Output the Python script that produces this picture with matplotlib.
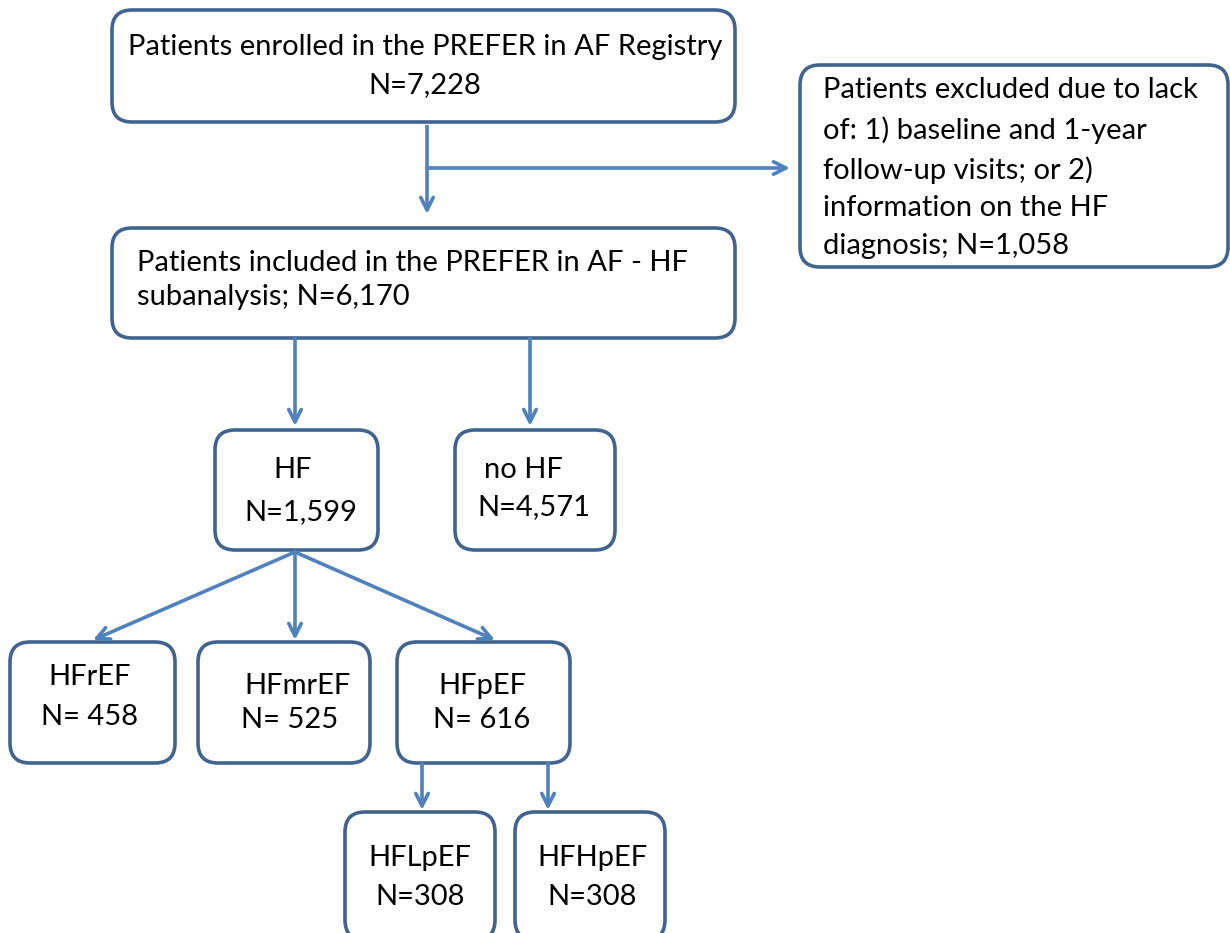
import matplotlib.pyplot as plt
from matplotlib.patches import FancyBboxPatch

plt.rcParams['font.family'] = ['Lato', 'DejaVu Sans']

BORDER = '#41648f'
ARROW = '#4f81bd'

# boxes: (x0, y0, x1, y1) in pixel coords, y down
box_names = ['enrolled', 'excluded', 'included', 'hf', 'nohf',
             'hfref', 'hfmref', 'hfpef', 'hflpef', 'hfhpef']
box_rects = [(112, 10, 735, 122), (800, 65, 1228, 267), (112, 228, 735, 338),
             (215, 430, 378, 550), (455, 430, 615, 550),
             (10, 642, 175, 763), (198, 642, 370, 763), (397, 642, 570, 763),
             (345, 812, 495, 940), (515, 812, 665, 940)]

# texts: (x, y, string, ha)
texts = [
    (425, 47, 'Patients enrolled in the PREFER in AF Registry', 'center'),
    (425, 85, 'N=7,228', 'center'),
    (823, 90, 'Patients excluded due to lack', 'left'),
    (823, 130, 'of: 1) baseline and 1-year', 'left'),
    (823, 170, 'follow-up visits; or 2)', 'left'),
    (823, 208, 'information on the HF', 'left'),
    (823, 246, 'diagnosis; N=1,058', 'left'),
    (137, 263, 'Patients included in the PREFER in AF - HF', 'left'),
    (137, 297, 'subanalysis; N=6,170', 'left'),
    (293, 470, 'HF', 'center'),
    (301, 512, 'N=1,599', 'center'),
    (523, 470, 'no HF', 'center'),
    (534, 507, 'N=4,571', 'center'),
    (90, 677, 'HFrEF', 'center'),
    (90, 717, 'N= 458', 'center'),
    (298, 686, 'HFmrEF', 'center'),
    (290, 720, 'N= 525', 'center'),
    (482, 686, 'HFpEF', 'center'),
    (482, 720, 'N= 616', 'center'),
    (420, 858, 'HFLpEF', 'center'),
    (420, 897, 'N=308', 'center'),
    (592, 858, 'HFHpEF', 'center'),
    (592, 897, 'N=308', 'center'),
]

# arrows: (x_start, y_start, x_end, y_end)
arrows = [(427, 168, 427, 214), (427, 168, 790, 168),
          (295, 338, 295, 426), (530, 338, 530, 426),
          (295, 552, 93, 640), (295, 552, 295, 640), (295, 552, 495, 640),
          (422, 763, 422, 810), (548, 763, 548, 810)]
plain_lines = [(427, 125, 427, 168)]

fig = plt.figure(figsize=(12.3, 9.33), dpi=100)
ax = fig.add_axes([0, 0, 1, 1])
ax.set_xlim(0, 1230)
ax.set_ylim(933, 0)
ax.axis('off')

for (x0, y0, x1, y1) in box_rects:
    r = 20
    p = FancyBboxPatch((x0 + r, y0 + r), (x1 - x0) - 2 * r, (y1 - y0) - 2 * r,
                       boxstyle=f'round,pad={r},rounding_size={r}',
                       facecolor='white', edgecolor=BORDER, linewidth=2.6)
    ax.add_patch(p)

for (x0, y0, x1, y1) in plain_lines:
    ax.plot([x0, x1], [y0, y1], color=ARROW, lw=2.6, solid_capstyle='butt')

for (x0, y0, x1, y1) in arrows:
    ax.annotate('', xy=(x1, y1), xytext=(x0, y0),
                arrowprops=dict(arrowstyle='->,head_length=0.9,head_width=0.45',
                                color=ARROW, lw=2.6, shrinkA=0, shrinkB=0))

for (x, y, s, ha) in texts:
    ax.text(x, y, s, ha=ha, va='center', fontsize=21, color='black')

fig.savefig('out.png', dpi=100)
